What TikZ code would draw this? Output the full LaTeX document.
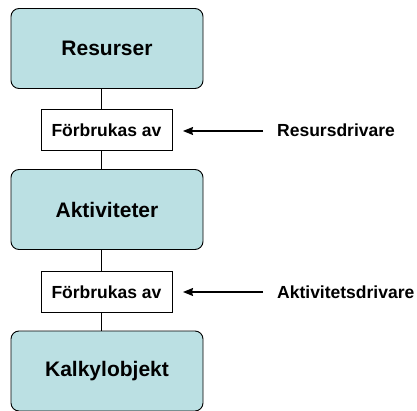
\documentclass[tikz,border=0pt]{standalone}
\usepackage{fontspec}
\setmainfont{Liberation Sans}
\usetikzlibrary{arrows.meta}
\definecolor{boxfill}{RGB}{187,224,227}
\begin{document}
\begin{tikzpicture}[x=1pt,y=-1pt,
  bigbox/.style={draw=black,line width=0.9pt,fill=boxfill,rounded corners=8pt,minimum width=192pt,minimum height=80pt,inner sep=0pt,font=\fontsize{21}{24}\selectfont\bfseries},
  smallbox/.style={draw=black,line width=0.8pt,fill=white,minimum width=131pt,minimum height=41pt,inner sep=0pt,font=\fontsize{17.5}{20}\selectfont\bfseries},
  drvlabel/.style={anchor=west,inner sep=0pt,font=\fontsize{17.5}{20}\selectfont\bfseries},
  link/.style={line width=0.8pt},
  drvarrow/.style={line width=1.1pt,-{Stealth[length=10pt,width=8pt,inset=1pt]}}]
\useasboundingbox (0,0) rectangle (417,411);
\node[bigbox] (res) at (107,48.5) {Resurser};
\node[smallbox] (f1) at (106.5,130) {Förbrukas av};
\node[bigbox] (akt) at (107,209.5) {Aktiviteter};
\node[smallbox] (f2) at (106.5,292) {Förbrukas av};
\node[bigbox] (kal) at (107,371) {Kalkylobjekt};
\node[drvlabel] (rd) at (277,130) {Resursdrivare};
\node[drvlabel] (ad) at (277,292) {Aktivitetsdrivare};
\coordinate (r1) at (263,131);
\coordinate (t1) at (183,131);
\coordinate (r2) at (263,292);
\coordinate (t2) at (183,292);
\draw[link] (res.south -| 101.5,0) -- (f1.north -| 101.5,0);
\draw[link] (f1.south -| 101.5,0) -- (akt.north -| 101.5,0);
\draw[link] (akt.south -| 101.5,0) -- (f2.north -| 101.5,0);
\draw[link] (f2.south -| 101.5,0) -- (kal.north -| 101.5,0);
\draw[drvarrow] (r1) -- (t1);
\draw[drvarrow] (r2) -- (t2);
\end{tikzpicture}
\end{document}
